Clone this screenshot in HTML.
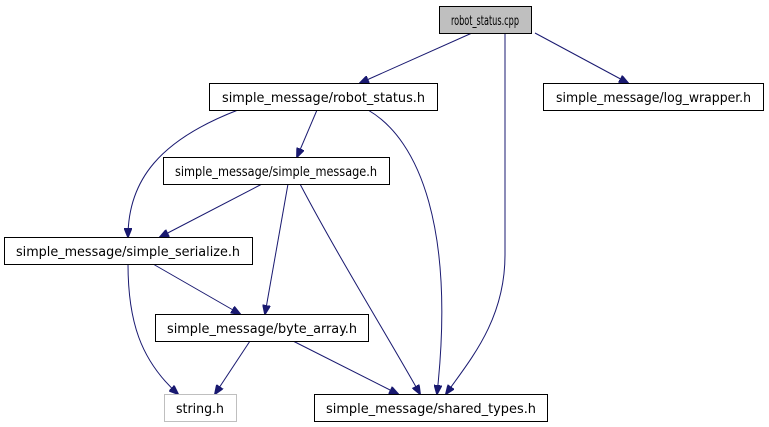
<!DOCTYPE html>
<html><head><meta charset="utf-8"><style>body{margin:0;background:#fff}svg{display:block}</style></head><body>
<svg width="769" height="427" viewBox="0 0 769 427" xmlns="http://www.w3.org/2000/svg" font-family="DejaVu Sans Condensed, DejaVu Sans, Liberation Sans, sans-serif" font-size="13.5">
<defs><marker id="a" markerWidth="10" markerHeight="8" refX="9" refY="4" orient="auto" markerUnits="userSpaceOnUse"><path d="M0,0L10,4L0,8z" fill="#191970" stroke="#191970"/></marker></defs>
<g fill="none" stroke="#191970" stroke-width="1" marker-end="url(#a)">
<path d="M472,33L360,83"/>
<path d="M505,33L505,255C505,320 470,360 446,394"/>
<path d="M535,33L628,83"/>
<path d="M238,110C160,140 128,180 128,237"/>
<path d="M317,110L297,157"/>
<path d="M368,110C420,140 455,230 437,394"/>
<path d="M262,184L160,237"/>
<path d="M288,184L265,314"/>
<path d="M300,184C340,260 390,340 420,394"/>
<path d="M153,264L240,314"/>
<path d="M128,264C128,320 140,360 178,394"/>
<path d="M250,341L215,394"/>
<path d="M293,341L398,394"/>
</g>
<g stroke="#000" stroke-width="1">
<rect x="439.5" y="6.5" width="92" height="27" fill="#bfbfbf"/>
<rect x="209.5" y="83.5" width="228" height="27" fill="#fff"/>
<rect x="543.5" y="83.5" width="220" height="27" fill="#fff"/>
<rect x="163.5" y="157.5" width="226" height="27" fill="#fff"/>
<rect x="4.5" y="237.5" width="248" height="27" fill="#fff"/>
<rect x="155.5" y="314.5" width="213" height="27" fill="#fff"/>
<rect x="164.5" y="394.5" width="72" height="27" fill="#fff" stroke="#bfbfbf"/>
<rect x="314.5" y="394.5" width="233" height="27" fill="#fff"/>
</g>
<g fill="#000">
<text x="451" y="25" textLength="68" lengthAdjust="spacingAndGlyphs">robot_status.cpp</text>
<text x="222" y="102" textLength="203" lengthAdjust="spacingAndGlyphs">simple_message/robot_status.h</text>
<text x="556" y="102" textLength="195" lengthAdjust="spacingAndGlyphs">simple_message/log_wrapper.h</text>
<text x="175" y="176" textLength="202" lengthAdjust="spacingAndGlyphs">simple_message/simple_message.h</text>
<text x="16" y="256" textLength="224" lengthAdjust="spacingAndGlyphs">simple_message/simple_serialize.h</text>
<text x="167" y="333" textLength="190" lengthAdjust="spacingAndGlyphs">simple_message/byte_array.h</text>
<text x="176" y="413" textLength="48" lengthAdjust="spacingAndGlyphs">string.h</text>
<text x="326" y="413" textLength="210" lengthAdjust="spacingAndGlyphs">simple_message/shared_types.h</text>
</g>
</svg>
</body></html>
